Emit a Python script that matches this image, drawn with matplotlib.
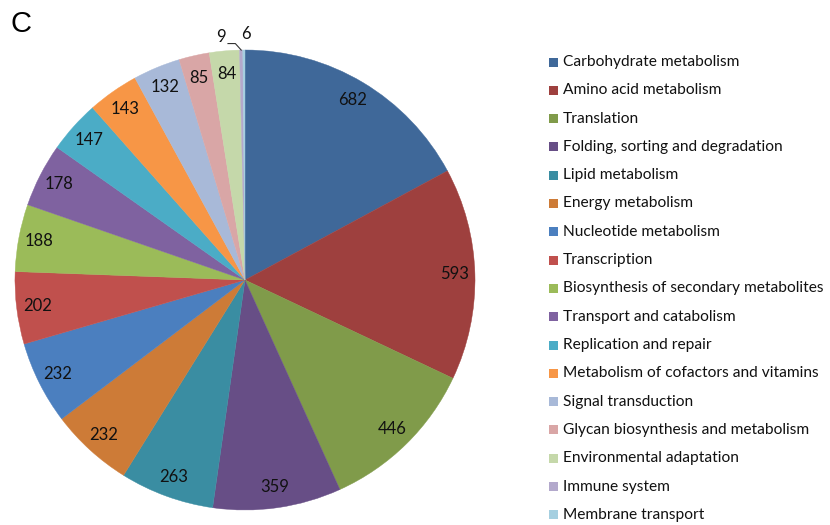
import matplotlib.pyplot as plt
import numpy as np
from matplotlib.patches import Rectangle

# categories, counts, colours (clockwise from 12 o'clock)
categories = ['Carbohydrate metabolism', 'Amino acid metabolism', 'Translation',
              'Folding, sorting and degradation', 'Lipid metabolism', 'Energy metabolism',
              'Nucleotide metabolism', 'Transcription', 'Biosynthesis of secondary metabolites',
              'Transport and catabolism', 'Replication and repair',
              'Metabolism of cofactors and vitamins', 'Signal transduction',
              'Glycan biosynthesis and metabolism', 'Environmental adaptation',
              'Immune system', 'Membrane transport']
counts = [682, 593, 446, 359, 263, 232, 232, 202, 188, 178, 147, 143, 132, 85, 84, 9, 6]
colors = ['#3F6899', '#9E403E', '#809B4A', '#674E86', '#3A8DA2', '#CD7B37',
          '#4B7FBF', '#C0504D', '#9BBB59', '#7F62A0', '#4BACC6', '#F79646',
          '#A8B9D8', '#D9A6A6', '#C5D8AA', '#B3A9CC', '#A5CFE0']

plt.rcParams['font.family'] = ['Lato', 'DejaVu Sans']

fig = plt.figure(figsize=(8.3, 5.25), dpi=100)

# pie axes: centre ~ (245, 280) px, radius ~ 230 px
ax = fig.add_axes([15 / 830, 15 / 525, 460 / 830, 460 / 525])
wedges, _ = ax.pie(counts, colors=colors, startangle=90, counterclock=False,
                   radius=1, wedgeprops=dict(linewidth=0.3))
for w in wedges:
    w.set_edgecolor(w.get_facecolor())
ax.set_xlim(-1, 1)
ax.set_ylim(-1, 1)
ax.set_aspect('equal')
ax.axis('off')

# value labels
for w, v in zip(wedges, counts):
    ang = np.deg2rad((w.theta1 + w.theta2) / 2)
    if v < 20:
        continue
    r = 0.91 if v > 100 else 0.9
    ax.text(r * np.cos(ang), r * np.sin(ang), str(v), ha='center', va='center',
            fontsize=12, color='#111111')

# the two tiny slices, labelled outside
w9 = wedges[-2]
a9 = np.deg2rad((w9.theta1 + w9.theta2) / 2)
ax.text(-0.104, 1.057, '9', ha='center', va='center', fontsize=12, color='#111111')
ax.plot([-0.074, -0.042, np.cos(a9)], [1.028, 1.028, np.sin(a9)],
        color='#333333', lw=0.8, clip_on=False)
ax.text(0.004, 1.07, '6', ha='center', va='center', fontsize=12, color='#111111')

# panel letter
fig.text(10 / 830, 1 - 24 / 525, 'C', fontsize=21, family='Liberation Sans', va='center')

# legend
y0, dy = 62, 28.3
for i, (name, c) in enumerate(zip(categories, colors)):
    yc = y0 + i * dy
    fig.patches.append(Rectangle((549 / 830, 1 - (yc + 4.5) / 525), 9 / 830, 9 / 525,
                                 transform=fig.transFigure, facecolor=c,
                                 edgecolor='none'))
    fig.text(563 / 830, 1 - yc / 525, name, fontsize=11.2, va='center', color='#111111')

fig.savefig('out.png', dpi=100)
